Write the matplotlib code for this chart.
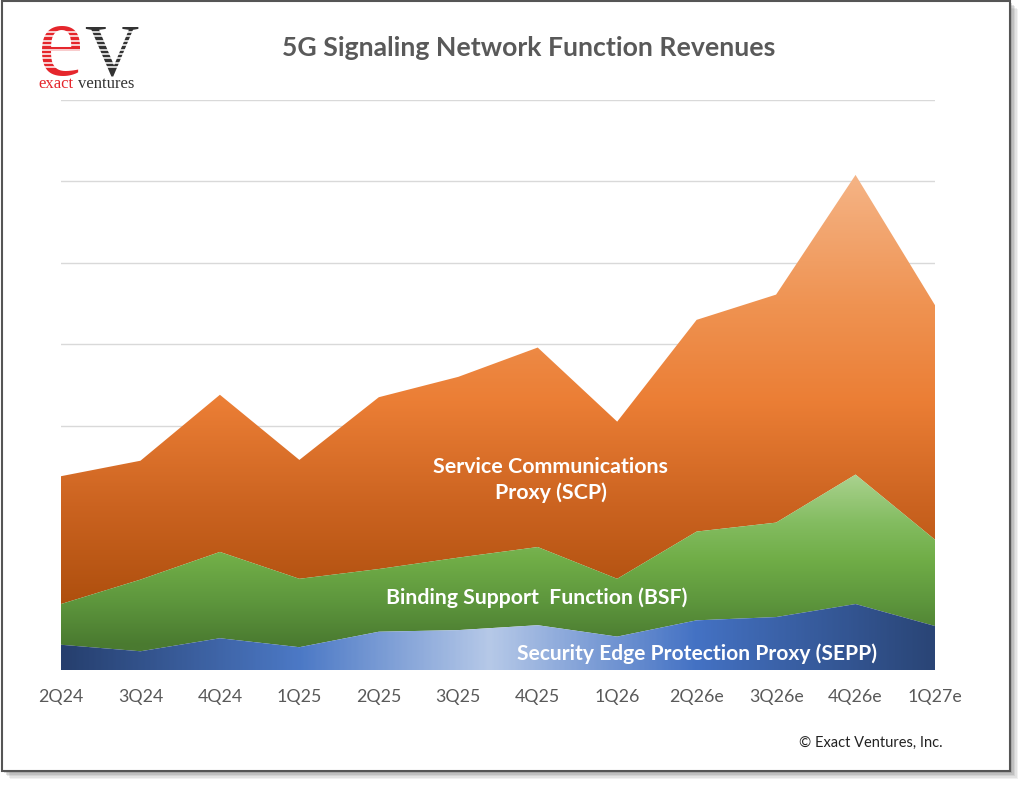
import numpy as np
import matplotlib.pyplot as plt
from matplotlib.colors import LinearSegmentedColormap
from matplotlib.patches import Polygon, Rectangle

plt.rcParams['font.family'] = ['Lato', 'DejaVu Sans']

quarters = ['2Q24', '3Q24', '4Q24', '1Q25', '2Q25', '3Q25', '4Q25',
            '1Q26', '2Q26e', '3Q26e', '4Q26e', '1Q27e']
sepp = [0.31, 0.23, 0.39, 0.28, 0.47, 0.49, 0.55, 0.41, 0.61, 0.65, 0.81, 0.54]
bsf = [0.50, 0.88, 1.06, 0.84, 0.77, 0.89, 0.96, 0.71, 1.09, 1.16, 1.59, 1.06]
scp = [1.57, 1.46, 1.93, 1.46, 2.11, 2.22, 2.45, 1.93, 2.60, 2.80, 3.68, 2.88]

W, H = 1024, 785
fig = plt.figure(figsize=(W / 100, H / 100), dpi=100)


def fx(px):
    return px / W


def fy(py):
    return 1 - py / H


# frame with drop shadow
for i, a in enumerate([0.10, 0.12, 0.15, 0.2, 0.25]):
    off = 8 - i * 1.5
    fig.patches.append(Rectangle((fx(2 + off), fy(771 + off)), 1008 / W, 770 / H,
                                 transform=fig.transFigure, facecolor='#777777',
                                 edgecolor='none', alpha=a, zorder=0))
fig.patches.append(Rectangle((fx(2), fy(771)), 1008 / W, 770 / H, transform=fig.transFigure,
                             facecolor='white', edgecolor='#555555', lw=1.5, zorder=1))

ax = fig.add_axes([fx(61), fy(670), (935 - 61) / W, (670 - 100) / H])
ax.set_zorder(2)
ax.patch.set_alpha(0)

x = np.arange(len(quarters))
s1 = np.array(sepp)
s2 = s1 + np.array(bsf)
s3 = s2 + np.array(scp)

for g in range(1, 8):
    ax.axhline(g, color='#D9D9D9', lw=1, zorder=0)


def grad_area(lo, hi, img, cmap):
    verts = np.vstack([np.column_stack([x, hi]), np.column_stack([x[::-1], lo[::-1]])])
    poly = Polygon(verts, closed=True, facecolor='none', edgecolor='none')
    ax.add_patch(poly)
    im = ax.imshow(img, extent=(0, 11, 0, 7), origin='lower', aspect='auto',
                   cmap=cmap, vmin=0, vmax=1, interpolation='bilinear', zorder=1)
    im.set_clip_path(poly)


def vmap(stops):
    lo, hi = stops[0][0], stops[-1][0]
    return LinearSegmentedColormap.from_list(
        'c', [((v - lo) / (hi - lo), c) for v, c in stops]), lo, hi


yy = np.linspace(0, 7, 400)
xx = np.linspace(0, 11, 400)

# orange (vertical gradient)
cm, lo, hi = vmap([(0.8, '#AE4F0E'), (2.0, '#CB6320'), (3.3, '#EB7E35'),
                   (4.5, '#EF9352'), (6.1, '#F5B486')])
img = np.tile(np.clip((yy - lo) / (hi - lo), 0, 1)[:, None], (1, 2))
grad_area(s2, s3, img, cm)

# green (vertical gradient)
cm, lo, hi = vmap([(0.3, '#4A7A30'), (0.85, '#5E973D'), (1.35, '#70AD47'),
                   (1.8, '#83BC60'), (2.4, '#AAD28F')])
img = np.tile(np.clip((yy - lo) / (hi - lo), 0, 1)[:, None], (1, 2))
grad_area(s1, s2, img, cm)

# blue (horizontal gradient)
cm, lo, hi = vmap([(0, '#263F6E'), (3.0, '#4C79C6'), (5.4, '#B6C9E8'),
                   (8.0, '#4472C4'), (11, '#2A4576')])
img = np.tile(np.clip((xx - lo) / (hi - lo), 0, 1)[None, :], (2, 1))
grad_area(np.zeros_like(s1), s1, img, cm)

ax.set_xlim(0, 11)
ax.set_ylim(0, 7)
ax.set_yticks([])
ax.set_xticks(x)
ax.set_xticklabels(quarters, fontsize=12.8, color='#595959')
ax.tick_params(axis='x', length=0, pad=14)
for sp in ax.spines.values():
    sp.set_visible(False)

# series labels
ax.text(6.165, 2.33, 'Service Communications\nProxy (SCP)', ha='center', va='center',
        color='white', fontsize=15.4, fontweight='bold', linespacing=1.3, zorder=5)
ax.text(5.99, 0.89, 'Binding Support  Function (BSF)', ha='center', va='center',
        color='white', fontsize=15.3, fontweight='bold', zorder=5)
ax.text(8.0, 0.2, 'Security Edge Protection Proxy (SEPP)', ha='center', va='center',
        color='white', fontsize=15.1, fontweight='bold', zorder=5)

# title
fig.text(fx(529), fy(48), '5G Signaling Network Function Revenues', ha='center', va='center',
         fontsize=19.2, fontweight='bold', color='#595959', zorder=3)

# logo
fig.text(fx(38), fy(75), 'e', fontsize=74, family='Liberation Serif', color='#E5262C',
         ha='left', va='baseline', zorder=3)
fig.text(fx(84), fy(75), 'V', fontsize=54, family='Liberation Serif', color='#333333',
         ha='left', va='baseline', zorder=3)
for yl in np.arange(32, 71, 4.4):
    fig.lines.append(plt.Line2D([fx(36), fx(140)], [fy(yl), fy(yl)], transform=fig.transFigure,
                                color='white', lw=1.1, zorder=4))
fig.text(fx(38), fy(84), 'exact', fontsize=12, family='Liberation Serif', color='#E5262C',
         ha='left', va='center', zorder=3)
fig.text(fx(78), fy(84), 'ventures', fontsize=12, family='Liberation Serif', color='#333333',
         ha='left', va='center', zorder=3)

# copyright
fig.text(fx(943), fy(743), '\u00a9 Exact Ventures, Inc.', ha='right', va='center',
         fontsize=10.5, color='#222222', zorder=3)

fig.savefig('out.png', dpi=100)
